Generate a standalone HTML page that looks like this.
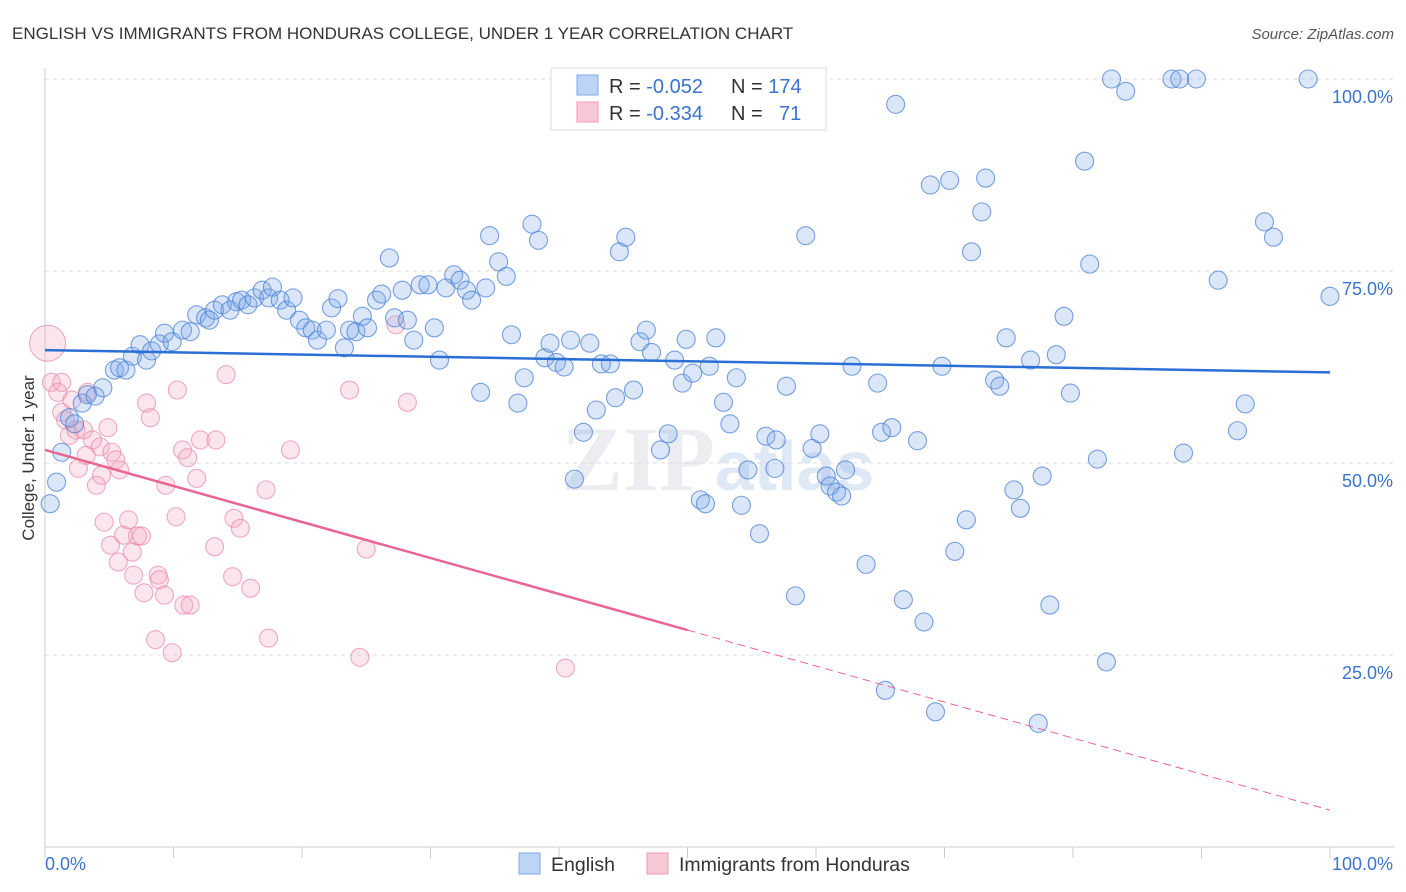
<!DOCTYPE html>
<html><head><meta charset="utf-8"><style>
body{margin:0;background:#fff;font-family:"Liberation Sans",sans-serif;}
svg{display:block}
</style></head><body>
<svg id="chart" width="1406" height="892" xmlns="http://www.w3.org/2000/svg" font-family="Liberation Sans, sans-serif">
<text x="12" y="39" font-size="17" fill="#333">ENGLISH VS IMMIGRANTS FROM HONDURAS COLLEGE, UNDER 1 YEAR CORRELATION CHART</text>
<text x="1394" y="39" font-size="15" fill="#555" text-anchor="end" font-style="italic">Source: ZipAtlas.com</text>
<text x="718" y="490" font-size="92" fill="#ebedf1" text-anchor="middle" font-family="Liberation Serif, serif" font-weight="bold">ZIP<tspan font-family="Liberation Sans, sans-serif" font-size="70" fill="#dfe8f5">atlas</tspan></text>
<g id="grid"></g>
<g id="axes"></g>
<g id="pts"></g>
<g id="lines"></g>
<text transform="translate(34,458) rotate(-90)" font-size="17" fill="#333" text-anchor="middle">College, Under 1 year</text>
<g>
<rect x="551" y="68" width="275" height="62" fill="#fff" stroke="#ddd"/>
<rect x="577" y="75" width="21" height="20" fill="#bcd4f6" stroke="#7ea8e6"/>
<rect x="577" y="102" width="21" height="20" fill="#f9c8d6" stroke="#ee9ab4"/>
<text x="609" y="93" font-size="20" fill="#333">R = <tspan fill="#3b73d1">-0.052</tspan><tspan x="731">N = </tspan><tspan fill="#3b73d1">174</tspan></text>
<text x="609" y="120" font-size="20" fill="#333">R = <tspan fill="#3b73d1">-0.334</tspan><tspan x="731">N = </tspan><tspan fill="#3b73d1" x="779">71</tspan></text>
</g>
<g>
<rect x="519" y="853" width="21" height="21" fill="#bcd4f6" stroke="#7ea8e6"/>
<text x="551" y="871" font-size="19.5" fill="#333">English</text>
<rect x="647" y="853" width="21" height="21" fill="#f9c8d6" stroke="#ee9ab4"/>
<text x="679" y="871" font-size="19.5" fill="#333">Immigrants from Honduras</text>
</g>
</svg>
<script>
const yTicks=[25,50,75,100];
const yTickLabels=["25.0%","50.0%","75.0%","100.0%"];
const xTickLabels=["0.0%","100.0%"];
const blueX=[0.4,0.9,1.3,1.9,2.3,2.9,3.3,3.9,4.5,5.4,5.8,6.3,6.8,7.4,7.9,8.3,8.9,9.3,9.9,10.7,11.3,11.8,12.5,12.8,13.2,13.8,14.4,14.9,15.3,15.8,16.3,16.9,17.4,17.7,18.3,18.8,19.3,19.8,20.3,20.8,21.2,21.9,22.3,22.8,23.3,23.7,24.2,24.7,25.1,25.8,26.2,26.8,27.2,27.8,28.2,28.7,29.2,29.8,30.3,30.7,31.2,31.8,32.3,32.8,33.2,33.9,34.3,34.6,35.3,35.9,36.3,36.8,37.3,37.9,38.4,38.9,39.3,39.8,40.4,40.9,41.2,41.9,42.4,42.9,43.3,44.0,44.4,44.7,45.2,45.8,46.3,46.8,47.2,47.9,48.5,49.0,49.6,49.9,50.4,51.0,51.4,51.7,52.2,52.8,53.3,53.8,54.2,54.7,55.6,56.1,56.8,57.7,58.4,59.2,59.7,60.3,60.8,61.1,61.6,62.0,62.3,62.8,63.9,64.8,65.1,65.9,66.2,66.8,67.9,68.4,68.9,69.3,69.8,70.4,70.8,71.7,72.1,72.9,73.2,73.9,74.3,74.8,75.4,75.9,76.7,77.3,77.6,78.2,78.7,79.3,79.8,80.9,81.3,81.9,82.6,83.0,84.1,87.7,88.3,89.6,88.6,91.3,92.8,93.4,94.9,95.6,98.3,100,65.4,56.9];
const blueY=[44.7,47.5,51.4,55.9,55.1,57.8,58.9,58.7,59.8,62.1,62.4,62.1,63.9,65.4,63.4,64.6,65.5,66.9,65.8,67.3,67.1,69.3,68.9,68.6,69.9,70.6,69.9,71.0,71.2,70.6,71.5,72.5,71.5,72.9,71.2,69.9,71.5,68.6,67.6,67.3,66.0,67.3,70.2,71.4,65.0,67.3,67.1,69.1,67.6,71.2,72.0,76.7,68.9,72.5,68.6,66.0,73.2,73.2,67.6,63.4,72.8,74.5,73.8,72.5,71.2,59.2,72.8,79.6,76.2,74.3,66.7,57.8,61.1,81.1,79.0,63.7,65.6,63.1,62.5,66.0,47.9,54.0,65.6,56.9,62.9,62.9,58.5,77.5,79.4,59.5,65.8,67.3,64.4,51.7,53.8,63.4,60.4,66.1,61.7,45.2,44.7,62.6,66.3,57.9,55.1,61.1,44.5,49.1,40.8,53.5,49.3,60.0,32.7,79.6,51.9,53.8,48.3,47.0,46.2,45.7,49.1,62.6,36.8,60.4,54.0,54.6,96.7,32.2,52.9,29.3,86.2,17.6,62.6,86.8,38.5,42.6,77.5,82.7,87.1,60.8,60.0,66.3,46.5,44.1,63.4,16.1,48.3,31.5,64.1,69.1,59.1,89.3,75.9,50.5,24.1,100,98.4,100,100,100,51.3,73.8,54.2,57.7,81.4,79.4,100,71.7,20.4,53.0];
const pinkX=[0.2,0.5,1.0,1.3,1.6,1.9,2.1,2.4,2.6,3.0,3.3,3.7,4.0,4.3,4.4,4.6,4.9,5.2,5.5,5.7,5.8,6.1,6.5,6.8,6.9,7.2,7.5,7.7,7.9,8.2,8.6,8.8,8.9,9.3,9.4,9.9,10.2,10.3,10.7,10.8,11.1,11.3,11.8,12.1,13.2,13.3,14.1,14.6,14.7,15.2,16.0,17.2,17.4,19.1,23.7,25.0,24.5,27.3,28.2,40.5,5.1,1.3,3.2];
const pinkY=[65.6,60.5,59.2,56.6,55.6,53.6,58.2,54.3,49.3,54.3,59.2,53.0,47.1,52.1,48.4,42.3,54.6,51.4,50.4,37.1,49.1,40.6,42.6,38.4,35.4,40.5,40.5,33.1,57.8,55.9,27.0,35.4,34.8,32.8,47.1,25.3,43.0,59.5,51.7,31.5,50.7,31.5,48.0,53.0,39.1,53.0,61.5,35.2,42.8,41.5,33.7,46.5,27.2,51.7,59.5,38.8,24.7,68.0,57.9,23.3,39.3,60.5,51.0];
const blueTrend=[64.7,61.8];
const pinkTrend=[51.7,4.8];
const NS="http://www.w3.org/2000/svg";
const X0=45,X1=1330,Y0=847,Y100=79;
const sx=v=>X0+(X1-X0)*v/100;
const sy=v=>Y0-(Y0-Y100)*v/100;
function mk(tag,attrs,parent){const e=document.createElementNS(NS,tag);for(const k in attrs)e.setAttribute(k,attrs[k]);parent.appendChild(e);return e;}
const grid=document.getElementById('grid'),axes=document.getElementById('axes'),pts=document.getElementById('pts'),lines=document.getElementById('lines');
yTicks.forEach((t,i)=>{
  const l=mk('line',{x1:X0,x2:1395,y1:sy(t),y2:sy(t),stroke:'#dcdcdc','stroke-dasharray':'4,4'},grid);
  
  
  const tx=mk('text',{x:1393,y:sy(t)+24,'font-size':18,fill:'#3b73d1','text-anchor':'end'},axes);
  tx.textContent=yTickLabels[i];
  
  
});
const al=mk('line',{x1:X0,x2:X0,y1:68,y2:Y0,stroke:'#ccc'},axes);


const bl=mk('line',{x1:X0,x2:1395,y1:Y0,y2:Y0,stroke:'#ccc'},axes);


for(let i=0;i<=10;i++){
  const tk=mk('line',{x1:sx(i*10),x2:sx(i*10),y1:Y0,y2:Y0+11,stroke:'#ccc'},axes);
  
  
}
[[0,'start',45],[100,'end',1393]].forEach((d,i)=>{
  const tx=mk('text',{x:d[2],y:870,'font-size':18,fill:'#3b73d1','text-anchor':d[1]},axes);
  tx.textContent=xTickLabels[i];
  
  
});
pinkX.forEach((x,i)=>{
  const c=mk('circle',{cx:sx(x),cy:sy(pinkY[i]),r:i===0?18:9,fill:'rgba(244,165,190,0.28)',stroke:'rgba(232,135,165,0.7)','stroke-width':1.1},pts);
  
  
});
blueX.forEach((x,i)=>{
  const c=mk('circle',{cx:sx(x),cy:sy(blueY[i]),r:9,fill:'rgba(125,170,235,0.28)',stroke:'rgba(75,130,215,0.75)','stroke-width':1.1},pts);
  
  
});
const b=mk('line',{x1:sx(0),y1:sy(blueTrend[0]),x2:sx(100),y2:sy(blueTrend[1]),stroke:'#2a6fd6','stroke-width':2.5},lines);


const pm=t=>pinkTrend[0]+(pinkTrend[1]-pinkTrend[0])*t/100;
const p1=mk('line',{x1:sx(0),y1:sy(pm(0)),x2:sx(50),y2:sy(pm(50)),stroke:'#e8668f','stroke-width':2.5},lines);


const p2=mk('line',{x1:sx(50),y1:sy(pm(50)),x2:sx(100),y2:sy(pm(100)),stroke:'#e8668f','stroke-width':1,'stroke-dasharray':'8,5'},lines);


</script>
</body></html>
